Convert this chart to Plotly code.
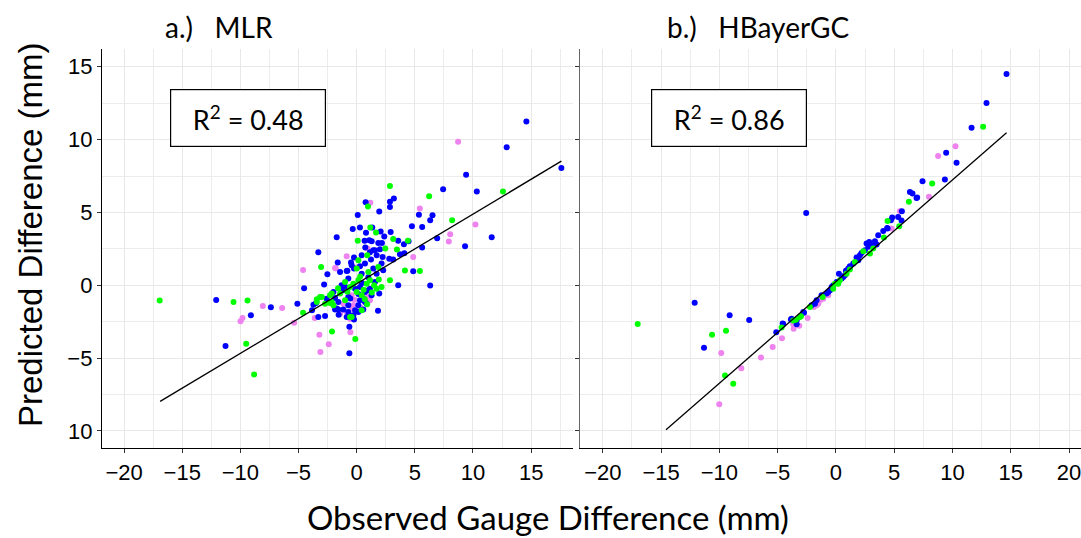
import plotly.graph_objects as go

# ---------------- data ----------------
# Panel a) MLR
mlr_blue_x = [17.6, 14.59, 12.9, 9.41, 7.43, 10.33, 6.52, 6.32, 5.63, 4.75, 6.92, 11.61, 5.63, 9.32, 6.32, 4.86, 3.57,
              3.2, 2.86, 0.77, 2.86, 1.94, 0.09, 5.35, -0.34, 0.28, 1.34, 0.8, 2.06, 2.92, 2.37, -1.72, 0.68, 1.08,
              1.86, 2.17, 3.57, 4.06, 4.46, -3.3, -0.23, 0.43, 0.74, 1.43, 1.14, 1.72, 3.72, 4.1, 2.23, 2.8, 1.23,
              3.14, -0.49, -0.86, -0.23, 0.28, -2.52, -2.8, -4.52, -12.08, -7.38, -5.1, -9.1, -11.28, -3.84, -3.3,
              -2.72, -0.63, -0.63, 1.83, -0.23, -1.63, -1.43, -0.8, -0.43, 0.71, 0.43, 1.43, 1.71, 2.28, 2.14, -2.0,
              -1.86, -2.58, -1.3, -1.15, -0.72, -0.14, 0.28, 0.71, 1.14, 1.57, 1.94, 1.28, -0.72, -3.72, -1.58,
              -0.72, -0.14, -0.29, 0.14, 0.28, 0.71, 0.86, 0.57, -1.72, 1.29, 1.57, 2.0, -1.86, -1.58, -1.15, -0.72,
              0.14, 0.57, -0.86, -1.55, -3.49, 0.45, -0.55, 1.0, 0.15, -1.0, 0.95]
mlr_blue_y = [8.06, 11.25, 9.48, 7.58, 6.6, 6.44, 4.81, 4.47, 4.01, 4.06, 3.23, 3.3, 2.59, 2.68, -0.02, 0.96, 0.0,
              5.96, 5.73, 5.7, 5.38, 5.06, 4.83, 4.85, 3.87, 3.97, 3.97, 3.6, 3.69, 3.66, 3.35, 3.3, 3.05, 3.09,
              2.91, 2.91, 3.05, 2.82, 3.02, 2.27, 1.9, 2.06, 2.59, 2.41, 2.27, 2.06, 2.13, 2.2, 1.95, 1.83, 1.77,
              1.77, 1.56, 0.98, 1.15, 1.31, 0.76, 0.05, -0.21, -1.01, -1.51, -1.26, -2.06, -4.17, -1.72, -2.18,
              -2.11, -4.67, -2.84, -1.74, -2.34, 1.56, 0.92, 0.99, 1.37, 1.49, 0.8, 1.15, 0.8, 1.03, 1.49, -0.46,
              -0.87, -0.92, 0.0, -0.34, 0.46, -0.23, -0.11, -0.46, -0.23, 0.23, -0.57, -0.69, -0.8, -1.33, -1.15,
              -1.37, -1.72, -2.06, -1.37, -1.03, -1.15, -1.26, -0.92, -1.6, 3.02, 2.41, 2.47, -1.67, -1.67, -1.67,
              -1.83, -1.83, -1.67, -2.18, -2.02, -1.21, 0.15, -0.9, 0.55, -0.6, -0.1, -0.35]

mlr_green_x = [2.86, 6.23, 12.58, 0.97, 8.21, 1.17, 1.66, 0.09, 3.14, 4.4, 2.46, 3.46, 0.14, 0.91, -3.06, 4.15, 5.43,
               2.86, -16.94, -10.59, -9.39, -9.5, -8.82, -4.61, -2.12, -0.12, 0.0, 1.0, 1.86, -2.29, -3.0, -1.0,
               -0.57, -0.29, 0.14, 0.0, 0.43, 0.86, 1.14, 1.71, 2.14, -1.43, -3.43, -2.72, -2.0, -1.0, -0.57, 0.43,
               -2.15, -3.15, -3.43, -2.29, -2.15, -0.43, 0.6, 1.3, 0.3, 1.5, 0.9, -0.8, 0.7, -1.6, 1.9]
mlr_green_y = [6.82, 6.12, 6.44, 5.41, 4.47, 3.97, 3.62, 3.05, 3.18, 3.05, 2.52, 2.45, 1.72, 2.06, 1.26, 1.01, 0.98,
               0.34, -1.05, -1.15, -1.05, -4.01, -6.12, -1.88, -3.18, -3.69, 1.15, 0.92, 1.26, -0.69, -0.8, 0.23,
               -0.11, 0.11, 0.34, -0.46, -0.69, 0.11, 0.34, -0.23, -0.11, -0.57, -0.96, -1.26, -1.37, -1.03, -2.18,
               -1.72, -1.15, -0.8, -1.15, -1.21, -0.57, -2.18, -0.3, -0.5, 0.6, 0.0, -1.3, -0.45, -0.95, -0.2, 0.4]

mlr_pink_x = [8.72, 1.17, 5.43, 10.21, 8.04, 7.92, 0.94, -0.86, 4.86, -1.86, -4.61, 0.0, -8.07, -6.41, -9.82, -9.99,
              -5.38, -3.61, -3.21, -3.12, -2.4, -0.54, -1.8, -0.43, 0.86, -1.43, -1.15, -0.43, -0.29, 1.14, -0.86,
              -0.57, -0.2, 0.3]
mlr_pink_y = [9.85, 5.66, 5.27, 4.17, 3.5, 3.0, 2.52, 1.99, 1.95, 1.19, 1.05, 1.22, -1.42, -1.56, -2.25, -2.47,
              -2.57, -2.25, -3.39, -4.58, -4.05, -3.23, 1.15, -0.69, -0.8, -1.95, -1.26, -1.6, -1.37, -1.03, -1.83,
              -2.29, -1.0, -1.5]

mlr_fit_x = [-16.9, 17.6]
mlr_fit_y = [-7.97, 8.52]

# Panel b) HBayerGC
hb_blue_x = [14.64, 12.92, 11.64, 9.46, 10.35, 7.43, 9.35, 6.35, 6.57, 6.97, 6.92, 5.66, -2.55, 4.83, 5.34, 4.72,
             5.63, 4.4, 4.06, 3.63, 4.43, 2.86, 3.35, 3.49, 3.15, 2.49, 2.06, 1.77, 1.92, 1.49, 1.2, 1.06, 0.86,
             0.77, 0.63, 0.26, 0.06, -0.23, -0.51, -0.66, -0.8, -1.23, -1.66, -1.8, -2.09, -2.8, -3.8, -3.37,
             -4.57, -3.37, -12.12, -9.12, -7.44, -11.32, -5.12, -4.52, -3.86, 2.63, 2.78, 2.2, 0.49, -0.37, -2.74]
hb_blue_y = [14.5, 12.51, 10.81, 9.09, 8.41, 7.15, 7.26, 6.41, 6.3, 6.02, 6.0, 5.09, 4.97, 4.65, 4.69, 4.47,
             4.45, 3.94, 3.73, 3.44, 3.9, 2.98, 3.03, 2.8, 2.75, 2.41, 2.06, 1.9, 1.72, 1.49, 1.31, 1.15, 0.99,
             0.69, 0.57, 0.8, 0.23, 0.0, -0.34, -0.46, -0.57, -0.69, -1.03, -1.26, -1.37, -1.83, -2.29, -2.41,
             -2.63, -2.68, -1.19, -2.06, -2.38, -4.28, -3.23, -2.66, -2.34, 2.87, 2.64, 2.22, 0.46, -0.11, -1.88]

hb_green_x = [12.63, 8.26, 6.26, 4.43, 5.43, 4.12, 2.92, 2.35, 1.63, 0.91, 0.34, -0.09, -0.23, -1.14, -2.23, -3.09,
              -3.66, -4.66, -17.01, -10.63, -9.43, -9.52, -8.81, 3.2, 1.2, 0.2, -3.43, -3.0]
hb_green_y = [10.88, 6.99, 5.73, 4.42, 4.06, 3.28, 2.18, 2.34, 1.6, 0.8, 0.34, 0.11, -0.23, -0.8, -1.49, -2.18,
              -2.41, -2.9, -2.66, -3.39, -3.12, -6.19, -6.76, 2.52, 1.08, 0.11, -2.36, -2.13]

hb_pink_x = [10.26, 8.77, 7.98, 5.49, 4.77, -0.66, -1.37, -1.51, -1.89, -2.43, -3.52, -3.66, -3.63, -3.15, -6.43,
             -5.43, -4.63, -9.84, -8.12, -10.01, -1.09, -1.66]
hb_pink_y = [9.55, 8.87, 6.07, 5.09, 3.9, -0.69, -1.03, -1.26, -1.49, -2.25, -2.52, -2.68, -2.98, -2.77, -4.95,
             -4.24, -3.64, -4.65, -5.7, -8.16, -0.92, -1.37]

hb_fit_x = [-14.58, 14.64]
hb_fit_y = [-9.92, 10.47]

x_ticks_a = [-20, -15, -10, -5, 0, 5, 10, 15]
x_ticks_b = [-20, -15, -10, -5, 0, 5, 10, 15, 20]
y_ticks = [-10, -5, 0, 5, 10, 15]
y_tick_text = ["10", "\u22125", "0", "5", "10", "15"]
r2_values = ["0.48", "0.86"]
panel_titles = ["a.)\u00a0\u00a0\u00a0MLR", "b.)\u00a0\u00a0\u00a0HBayerGC"]

BLUE = "#0000FF"
GREEN = "#00FF00"
PINK = "#EE82EE"


def fmt(v):
    return str(v).replace("-", "\u2212")


fig = go.Figure()


def add_points(xs, ys, color, xa, ya):
    fig.add_trace(go.Scatter(x=xs, y=ys, mode="markers",
                             marker=dict(color=color, size=6, line=dict(width=0)),
                             xaxis=xa, yaxis=ya, showlegend=False, hoverinfo="skip"))


for (pxs, pys, bxs, bys, gxs, gys, fx, fy, xa, ya) in [
    (mlr_pink_x, mlr_pink_y, mlr_blue_x, mlr_blue_y, mlr_green_x, mlr_green_y, mlr_fit_x, mlr_fit_y, "x", "y"),
    (hb_pink_x, hb_pink_y, hb_blue_x, hb_blue_y, hb_green_x, hb_green_y, hb_fit_x, hb_fit_y, "x2", "y2"),
]:
    add_points(pxs, pys, PINK, xa, ya)
    add_points(bxs, bys, BLUE, xa, ya)
    add_points(gxs, gys, GREEN, xa, ya)
    fig.add_trace(go.Scatter(x=fx, y=fy, mode="lines", line=dict(color="black", width=1.3),
                             xaxis=xa, yaxis=ya, showlegend=False, hoverinfo="skip"))

tickfont = dict(family="Liberation Sans, Arial, sans-serif", size=22, color="black")
grid = dict(showgrid=True, gridcolor="#e8e8e8", gridwidth=1.4, zeroline=False,
            minor=dict(dtick=2.5, tick0=0, showgrid=True, gridcolor="#ececec", gridwidth=1.2))

ydom = [1 - 448.3 / 538, 1 - 49.3 / 538]
yrange = [-11.19, 16.2]

fig.update_layout(
    width=1081, height=538,
    margin=dict(l=0, r=0, t=0, b=0),
    paper_bgcolor="white", plot_bgcolor="white",
    xaxis=dict(domain=[102 / 1081, 573 / 1081], range=[-21.9, 18.6], anchor="y",
               tickvals=x_ticks_a, ticktext=[fmt(v) for v in x_ticks_a],
               showline=True, linecolor="black", linewidth=1.3, ticks="outside", ticklen=4,
               tickcolor="#333", tickfont=tickfont, ticklabeloverflow="allow", **grid),
    yaxis=dict(domain=ydom, range=yrange, anchor="x",
               tickvals=y_ticks, ticktext=y_tick_text,
               showline=True, linecolor="black", linewidth=1.3, ticks="outside", ticklen=4,
               tickcolor="#333", tickfont=tickfont, ticklabeloverflow="allow", **grid),
    xaxis2=dict(domain=[580 / 1081, 1.0], range=[-21.96, 21.03], anchor="y2",
                tickvals=x_ticks_b, ticktext=[fmt(v) for v in x_ticks_b],
                showline=True, linecolor="black", linewidth=1.3, ticks="outside", ticklen=4,
                tickcolor="#333", tickfont=tickfont, ticklabeloverflow="allow", **grid),
    yaxis2=dict(domain=ydom, range=yrange, anchor="x2",
                tickvals=y_ticks, showticklabels=False,
                showline=True, linecolor="#666", linewidth=1.3, ticks="outside", ticklen=4,
                tickcolor="#333", **grid),
)

title_font = dict(family="Lato, Open Sans, sans-serif", size=28, color="black")
anns = [
    dict(text=panel_titles[0], x=163 / 1081, y=1 - 27 / 538, xref="paper", yref="paper",
         xanchor="left", yanchor="middle", showarrow=False, font=title_font),
    dict(text=panel_titles[1], x=665 / 1081, y=1 - 27 / 538, xref="paper", yref="paper",
         xanchor="left", yanchor="middle", showarrow=False, font=title_font),
    dict(text="Observed Gauge Difference (mm)", x=548 / 1081, y=1 - 517 / 538, xref="paper", yref="paper",
         xanchor="center", yanchor="middle", showarrow=False,
         font=dict(family="Lato, Open Sans, sans-serif", size=33, color="black")),
    dict(text="Predicted Difference (mm)", x=30 / 1081, y=1 - 235 / 538, xref="paper", yref="paper",
         xanchor="center", yanchor="middle", showarrow=False, textangle=-90,
         font=dict(family="Liberation Sans, Arial, sans-serif", size=33, color="black")),
]
for cx, val in [(247.8, r2_values[0]), (728.8, r2_values[1])]:
    anns.append(dict(text="R<sup>2</sup> = " + val, x=cx / 1081, y=1 - 118 / 538, xref="paper", yref="paper",
                     xanchor="center", yanchor="middle", showarrow=False,
                     width=152, height=54, borderpad=1, bordercolor="black", borderwidth=1.2,
                     bgcolor="white", font=dict(family="Lato, Open Sans, sans-serif", size=27, color="black")))
fig.update_layout(annotations=anns)

fig.write_html("out.html", config={"displayModeBar": False},
               post_script="document.body.style.margin='0';document.body.style.overflow='hidden';")
